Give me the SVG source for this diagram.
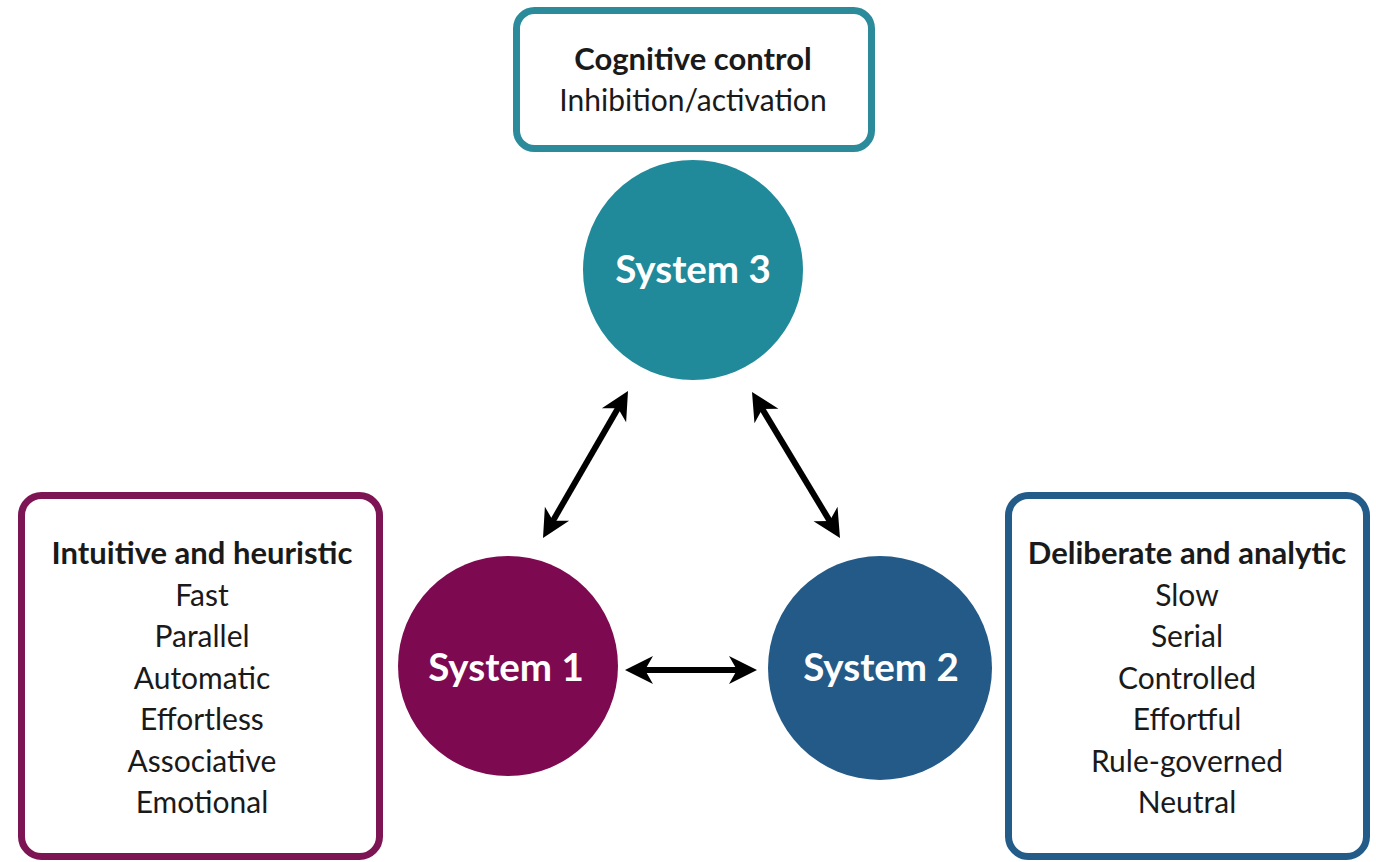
<svg xmlns="http://www.w3.org/2000/svg" width="1376" height="862" viewBox="0 0 1376 862">
<style>
.box{fill:#ffffff;stroke-width:7}
.t{font-family:Lato,"Open Sans","Liberation Sans",sans-serif;fill:#1a1a1a;text-anchor:middle;font-size:30px}
.h{font-weight:bold;font-size:31px}
.sys{font-family:Lato,"Open Sans","Liberation Sans",sans-serif;fill:#ffffff;font-weight:bold;font-size:38.5px;text-anchor:middle}
.arr{stroke:#000;stroke-width:6;fill:none;marker-start:url(#ah);marker-end:url(#ah)}
</style>
<defs>
<marker id="ah" markerUnits="userSpaceOnUse" viewBox="0 -15 29 30" markerWidth="29" markerHeight="30" refX="10" refY="0" orient="auto-start-reverse">
<path d="M0,-14 L28,0 L0,14 L8,0 z" fill="#000"/>
</marker>
</defs>
<rect width="1376" height="862" fill="#ffffff"/>
<g id="control-box">
<rect class="box" x="516.5" y="10.5" width="355" height="138" rx="18" stroke="#2b8b9b"/>
<text class="t h" x="693" y="70">Cognitive control</text>
<text class="t" x="693" y="111">Inhibition/activation</text>
</g>
<g id="system3">
<circle cx="693" cy="270" r="110" fill="#20899a"/>
<text class="sys" x="693" y="283">System 3</text>
</g>
<g id="system1">
<circle cx="508" cy="666" r="110" fill="#7d0a50"/>
<text class="sys" x="506" y="681">System 1</text>
</g>
<g id="system2">
<circle cx="880" cy="668" r="112" fill="#235a87"/>
<text class="sys" x="881" y="681">System 2</text>
</g>
<g id="system1-box">
<rect class="box" x="21.5" y="495.5" width="358" height="361" rx="20" stroke="#7d1453"/>
<text class="t h" x="202" y="564">Intuitive and heuristic</text>
<text class="t" x="202" y="606">Fast</text>
<text class="t" x="202" y="647">Parallel</text>
<text class="t" x="202" y="689">Automatic</text>
<text class="t" x="202" y="730">Effortless</text>
<text class="t" x="202" y="772">Associative</text>
<text class="t" x="202" y="813">Emotional</text>
</g>
<g id="system2-box">
<rect class="box" x="1008.5" y="495.5" width="358" height="361" rx="20" stroke="#245c89"/>
<text class="t h" x="1187" y="564">Deliberate and analytic</text>
<text class="t" x="1187" y="606">Slow</text>
<text class="t" x="1187" y="647">Serial</text>
<text class="t" x="1187" y="689">Controlled</text>
<text class="t" x="1187" y="730">Effortful</text>
<text class="t" x="1187" y="772">Rule-governed</text>
<text class="t" x="1187" y="813">Neutral</text>
</g>
<g id="connectors">
<line class="arr" x1="552" y1="522.4" x2="619" y2="406.6"/>
<line class="arr" x1="761.3" y1="407.4" x2="830.7" y2="522.6"/>
<line class="arr" x1="643" y1="670" x2="739" y2="670"/>
</g>
</svg>
